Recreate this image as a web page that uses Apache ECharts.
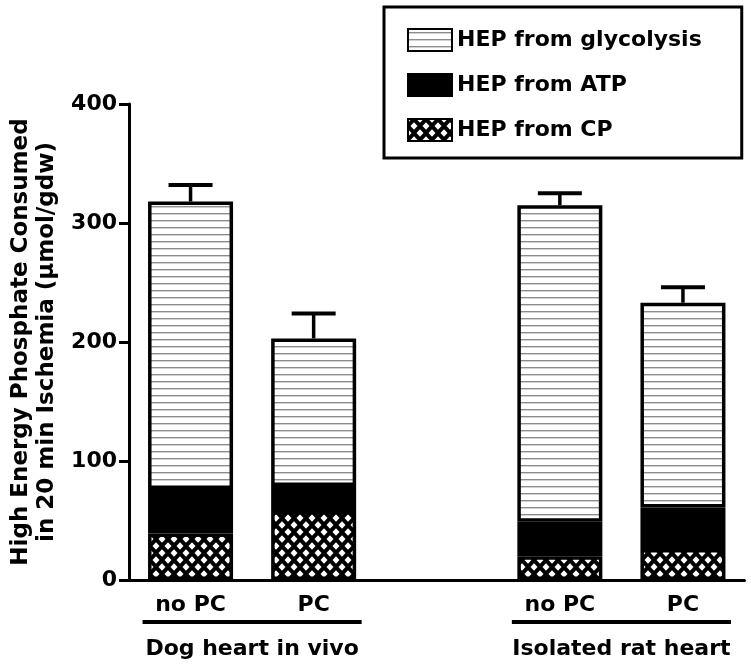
<!DOCTYPE html>
<html>
<head>
<meta charset="utf-8">
<script src="https://cdn.jsdelivr.net/npm/echarts@6/dist/echarts.min.js"></script>
<style>html,body{margin:0;padding:0;background:#fff;}#c{width:751px;height:666px;}</style>
</head>
<body>
<div id="c"></div>
<script>
const categories = ['no PC', 'PC', '', 'no PC', 'PC'];
const cpValues = [39, 58, '-', 20, 26];
const atpValues = [37.5, 21, '-', 29, 35];
const glycoValues = [241.5, 124, '-', 266, 172];
const errValues = [14, 21, '-', 10, 13];
const groupLabels = ['Dog heart in vivo', 'Isolated rat heart'];
const groupSpans = [[0, 1], [3, 4]];
const seriesNames = ['HEP from glycolysis', 'HEP from ATP', 'HEP from CP'];
const yTitle = 'High Energy Phosphate Consumed\nin 20 min Ischemia (\u03bcmol/gdw)';

const FONT = 'DejaVu Sans';

function hatchPattern() {
  const c = document.createElement('canvas');
  c.width = 8; c.height = 7;
  const g = c.getContext('2d');
  g.fillStyle = '#fff'; g.fillRect(0, 0, 8, 7);
  g.fillStyle = '#8c8c8c'; g.fillRect(0, 3, 8, 1.4);
  return c;
}
function crossPattern() {
  const c = document.createElement('canvas');
  c.width = 12; c.height = 14;
  const g = c.getContext('2d');
  g.fillStyle = '#000'; g.fillRect(0, 0, 12, 14);
  g.fillStyle = '#fff';
  const pts = [[6, 7], [0, 0], [12, 0], [0, 14], [12, 14]];
  pts.forEach(([x, y]) => {
    g.beginPath();
    g.moveTo(x, y - 3.8); g.lineTo(x + 3.5, y); g.lineTo(x, y + 3.8); g.lineTo(x - 3.5, y);
    g.closePath(); g.fill();
  });
  return c;
}

const totals = glycoValues.map((v, i) => v === '-' ? '-' : cpValues[i] + atpValues[i] + v);
const errData = [];
totals.forEach((t, i) => { if (t !== '-') errData.push([i, t, errValues[i]]); });

const chart = echarts.init(document.getElementById('c'), null, {renderer: 'canvas'});

const barBase = {
  type: 'bar', stack: 'hep', barWidth: 85,
  emphasis: {disabled: true}
};

const option = {
  animation: false,
  backgroundColor: '#fff',
  grid: {left: 129, right: 6.5, top: 104, bottom: 86, containLabel: false},
  legend: {
    orient: 'vertical', left: 384, top: 7,
    data: seriesNames.map(n => ({name: n, icon: 'rect'})),
    itemWidth: 44, itemHeight: 22, itemGap: 21,
    padding: [21, 40, 16, 23],
    borderColor: '#000', borderWidth: 3,
    textStyle: {fontFamily: FONT, fontWeight: 'bold', fontSize: 22, color: '#000'},
    selectedMode: false
  },
  xAxis: {
    type: 'category', data: categories,
    axisLine: {lineStyle: {color: '#000', width: 3}},
    axisTick: {show: false},
    axisLabel: {interval: 0, margin: 14, color: '#000', fontFamily: FONT, fontWeight: 'bold', fontSize: 22}
  },
  yAxis: {
    type: 'value', min: 0, max: 400, interval: 100,
    name: yTitle, nameLocation: 'middle', nameRotate: 90, nameGap: 64,
    nameTextStyle: {fontFamily: FONT, fontWeight: 'bold', fontSize: 23, color: '#000', lineHeight: 26},
    axisLine: {show: true, lineStyle: {color: '#000', width: 3}},
    axisTick: {show: true, length: 10, lineStyle: {color: '#000', width: 3}},
    axisLabel: {margin: 12, color: '#000', fontFamily: FONT, fontWeight: 'bold', fontSize: 22},
    splitLine: {show: false}
  },
  series: [
    Object.assign({}, barBase, {name: seriesNames[2], data: cpValues,
      itemStyle: {color: {image: crossPattern(), repeat: 'repeat'}, borderColor: '#000', borderWidth: 3.5}}),
    Object.assign({}, barBase, {name: seriesNames[1], data: atpValues,
      itemStyle: {color: '#000', borderColor: '#000', borderWidth: 3.5}}),
    Object.assign({}, barBase, {name: seriesNames[0], data: glycoValues,
      itemStyle: {color: {image: hatchPattern(), repeat: 'repeat'}, borderColor: '#000', borderWidth: 3.5}}),
    {
      type: 'custom', name: 'err', data: errData, z: 10, silent: true,
      encode: {x: 0, y: 1},
      renderItem: function (params, api) {
        const x = api.value(0);
        const top = api.coord([x, api.value(1)]);
        const up = api.coord([x, api.value(1) + api.value(2)]);
        return {
          type: 'group', children: [
            {type: 'line', shape: {x1: top[0], y1: top[1], x2: up[0], y2: up[1]}, style: {stroke: '#000', lineWidth: 3.5}},
            {type: 'line', shape: {x1: up[0] - 22, y1: up[1], x2: up[0] + 22, y2: up[1]}, style: {stroke: '#000', lineWidth: 4}}
          ]
        };
      }
    }
  ]
};
chart.setOption(option);

const y0 = chart.convertToPixel({yAxisIndex: 0}, 0);
const graphics = [];
groupSpans.forEach((span, k) => {
  const a = chart.convertToPixel({xAxisIndex: 0}, span[0]);
  const b = chart.convertToPixel({xAxisIndex: 0}, span[1]);
  const cx = (a + b) / 2;
  const half = (b - a) / 2 + 48;
  graphics.push({type: 'line', shape: {x1: cx - half, y1: y0 + 42, x2: cx + half, y2: y0 + 42}, style: {stroke: '#000', lineWidth: 4}});
  graphics.push({type: 'text', x: cx, y: y0 + 69, style: {text: groupLabels[k], fontFamily: FONT, fontWeight: 'bold', fontSize: 22, fill: '#000', textAlign: 'center', textVerticalAlign: 'middle'}});
});
chart.setOption({graphic: graphics});
</script>
</body>
</html>
